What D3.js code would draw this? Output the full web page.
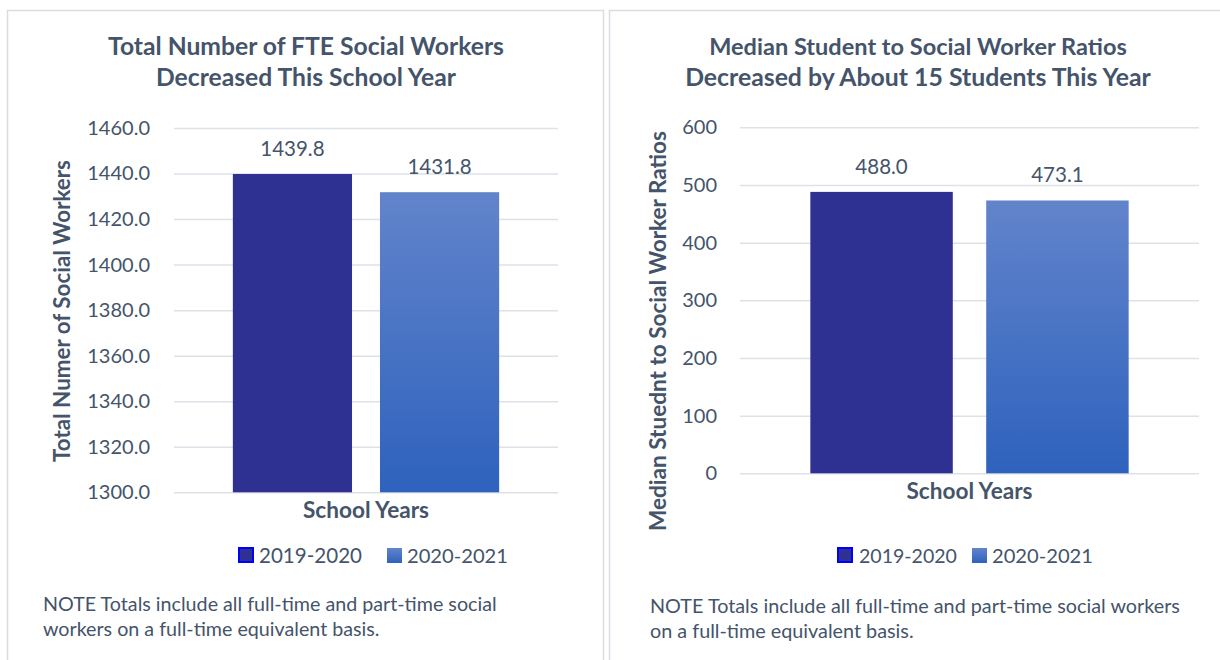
<!DOCTYPE html>
<html>
<head>
<meta charset="utf-8">
<script src="https://cdn.jsdelivr.net/npm/d3@7"></script>
<style>
  html, body { margin: 0; padding: 0; background: #fff; }
  svg { display: block; font-family: Lato, "Open Sans", sans-serif; }
</style>
</head>
<body>
<svg id="chart" width="1220" height="660"></svg>
<script>
// School years compared in both charts
const schoolYears = ["2019-2020", "2020-2021"];

// Total FTE social workers per school year
const fteValues = [1439.8, 1431.8];
const fteTicks = [1300, 1320, 1340, 1360, 1380, 1400, 1420, 1440, 1460];

// Median students per social worker per school year
const ratioValues = [488.0, 473.1];
const ratioTicks = [0, 100, 200, 300, 400, 500, 600];

const TEXT = "#44546A";
const GRID = "#DDE1E8";
const DARK = "#2E3192";

const svg = d3.select("#chart");
const defs = svg.append("defs");

// Vertical gradient used for the 2020-2021 bars
const grad = defs.append("linearGradient")
  .attr("id", "lightBlue").attr("x1", 0).attr("y1", 0).attr("x2", 0).attr("y2", 1);
grad.append("stop").attr("offset", "0%").attr("stop-color", "#6284CB");
grad.append("stop").attr("offset", "100%").attr("stop-color", "#2E62BD");

const fills = [DARK, "url(#lightBlue)"];

// Scale a text element's font so it spans a given width
function fit(sel, width) {
  const node = sel.node();
  const fs = parseFloat(sel.attr("font-size"));
  const w = node.getComputedTextLength();
  sel.attr("font-size", (fs * width / w).toFixed(2));
  return sel;
}

function drawPanel(o) {
  const g = svg.append("g");

  // panel frame
  g.append("rect")
    .attr("x", o.frame[0]).attr("y", o.frame[1])
    .attr("width", o.frame[2]).attr("height", o.frame[3])
    .attr("fill", "#fff").attr("stroke", "#D9DCE1").attr("stroke-width", 1.5);

  // title
  o.title.forEach((line, i) => {
    const t = g.append("text")
      .attr("x", o.titleX).attr("y", o.titleY[i])
      .attr("text-anchor", "middle").attr("font-weight", "bold")
      .attr("font-size", 21).attr("fill", TEXT).text(line);
    fit(t, o.titleW[i]);
  });

  const y = d3.scaleLinear().domain(o.domain).range([o.bottom, o.top]);
  const x = d3.scaleBand().domain(schoolYears)
    .range([o.left, o.right]).paddingInner(0.19).paddingOuter(0.4);

  // gridlines
  g.append("g")
    .attr("transform", `translate(${o.left},0)`)
    .call(d3.axisLeft(y).tickValues(o.ticks).tickSize(-(o.right - o.left)).tickFormat(""))
    .call(a => a.select(".domain").remove())
    .call(a => a.selectAll("line").attr("stroke", GRID).attr("stroke-width", 1.5));

  // tick labels
  g.append("g")
    .attr("transform", `translate(${o.left},0)`)
    .call(d3.axisLeft(y).tickValues(o.ticks).tickSize(0).tickPadding(o.tickPad).tickFormat(o.fmt))
    .call(a => a.select(".domain").remove())
    .call(a => a.selectAll("text")
      .attr("font-family", "Lato, sans-serif")
      .attr("font-size", 20).attr("fill", TEXT));

  // bars
  g.selectAll("rect.bar").data(o.values).join("rect")
    .attr("class", "bar")
    .attr("x", (d, i) => x(schoolYears[i]))
    .attr("width", x.bandwidth())
    .attr("y", d => y(d))
    .attr("height", d => y(o.domain[0]) - y(d))
    .attr("fill", (d, i) => fills[i]);

  // value labels
  g.selectAll("text.val").data(o.values).join("text")
    .attr("class", "val")
    .attr("x", (d, i) => x(schoolYears[i]) + x.bandwidth() / 2)
    .attr("y", d => y(d) - 18)
    .attr("text-anchor", "middle")
    .attr("font-size", 20.5).attr("fill", TEXT)
    .text(d => d3.format(".1f")(d));

  // category axis title
  const cx = (o.left + o.right) / 2;
  const xt = g.append("text")
    .attr("x", cx).attr("y", o.bottom + 26)
    .attr("text-anchor", "middle").attr("font-weight", "bold")
    .attr("font-size", 18).attr("fill", TEXT).text("School Years");
  fit(xt, 126);

  // value axis title
  const yt = g.append("text")
    .attr("transform", `translate(${o.yTitleX},${o.yTitleY}) rotate(-90)`)
    .attr("text-anchor", "middle").attr("font-weight", "bold")
    .attr("font-size", 18).attr("fill", TEXT).text(o.yTitle);
  fit(yt, o.yTitleW);

  // legend
  o.legend.forEach((p, i) => {
    if (i === 0) {
      g.append("rect").attr("x", p[0] + 1).attr("y", 548).attr("width", 14).attr("height", 14)
        .attr("fill", DARK).attr("stroke", "#0000FF").attr("stroke-width", 2);
    } else {
      g.append("rect").attr("x", p[0]).attr("y", 548).attr("width", 15).attr("height", 15)
        .attr("fill", fills[1]);
    }
    const t = g.append("text").attr("x", p[1]).attr("y", 562.5)
      .attr("font-size", 19.5).attr("fill", TEXT).text(schoolYears[i]);
    fit(t, p[2]);
  });

  // footnote: both lines share the size fitted on the first
  let noteSize = 16;
  o.note.forEach((line, i) => {
    const t = g.append("text")
      .attr("x", o.noteX).attr("y", o.noteY[i])
      .attr("font-size", noteSize).attr("fill", TEXT).text(line);
    if (i === 0) noteSize = +fit(t, o.noteW).attr("font-size");
  });
}

drawPanel({
  frame: [7.5, 10.5, 596, 700],
  title: ["Total Number of FTE Social Workers", "Decreased This School Year"],
  titleX: 306, titleY: [55, 86], titleW: [396, 300],
  domain: [1300, 1460], ticks: fteTicks, values: fteValues, fmt: d3.format(".1f"),
  left: 174, right: 558, top: 128, bottom: 492.3, tickPad: 24,
  yTitle: "Total Numer of Social Workers", yTitleX: 70, yTitleY: 311, yTitleW: 302,
  legend: [[238, 259, 103], [387, 407, 101]],
  note: ["NOTE Totals include all full-time and part-time social",
         "workers on a full-time equivalent basis."],
  noteX: 43, noteY: [611, 636], noteW: 454
});

drawPanel({
  frame: [609.5, 10.5, 640, 700],
  title: ["Median Student to Social Worker Ratios", "Decreased by About 15 Students This Year"],
  titleX: 918, titleY: [55, 86], titleW: [418, 466],
  domain: [0, 600], ticks: ratioTicks, values: ratioValues, fmt: d3.format("d"),
  left: 740, right: 1199, top: 127.3, bottom: 473.3, tickPad: 23,
  yTitle: "Median Stuednt to Social Worker Ratios", yTitleX: 666, yTitleY: 331, yTitleW: 400,
  legend: [[837, 859, 98], [972, 992, 101]],
  note: ["NOTE Totals include all full-time and part-time social workers",
         "on a full-time equivalent basis."],
  noteX: 650, noteY: [613, 638], noteW: 530
});
</script>
</body>
</html>
